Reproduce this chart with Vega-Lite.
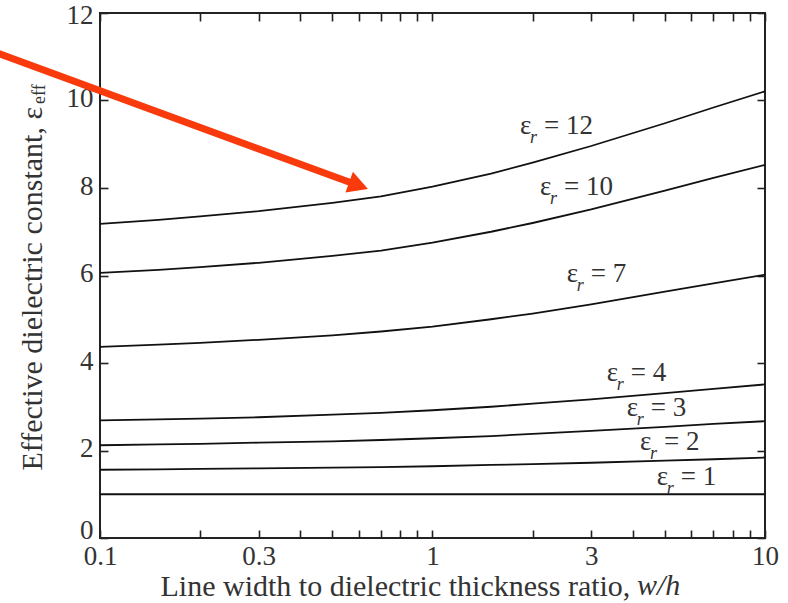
{
  "$schema": "https://vega.github.io/schema/vega-lite/v6.json",
  "width": 665,
  "height": 525,
  "autosize": "none",
  "padding": {"left": 100, "top": 13, "right": 23, "bottom": 65},
  "background": "white",
  "config": {
    "view": {"stroke": "#222", "strokeWidth": 2},
    "axis": {
      "grid": false,
      "domain": false,
      "tickColor": "#222",
      "tickWidth": 1.6,
      "labelFont": "Liberation Serif",
      "labelFontSize": 27,
      "labelColor": "#333",
      "titleFont": "Liberation Serif",
      "titleFontSize": 30,
      "titleFontWeight": "normal",
      "titleColor": "#333",
      "labelFlush": false,
      "labelOverlap": false
    }
  },
  "datasets": {
    "curves": [
      {"er": 12, "wh": 0.1, "eps": 7.18}, {"er": 12, "wh": 0.15, "eps": 7.27}, {"er": 12, "wh": 0.2, "eps": 7.35}, {"er": 12, "wh": 0.3, "eps": 7.47}, {"er": 12, "wh": 0.5, "eps": 7.66}, {"er": 12, "wh": 0.7, "eps": 7.81}, {"er": 12, "wh": 1, "eps": 8.03}, {"er": 12, "wh": 1.5, "eps": 8.33}, {"er": 12, "wh": 2, "eps": 8.58}, {"er": 12, "wh": 3, "eps": 8.96}, {"er": 12, "wh": 5, "eps": 9.48}, {"er": 12, "wh": 7, "eps": 9.84}, {"er": 12, "wh": 10, "eps": 10.21},
      {"er": 10, "wh": 0.1, "eps": 6.06}, {"er": 10, "wh": 0.15, "eps": 6.13}, {"er": 10, "wh": 0.2, "eps": 6.19}, {"er": 10, "wh": 0.3, "eps": 6.29}, {"er": 10, "wh": 0.5, "eps": 6.45}, {"er": 10, "wh": 0.7, "eps": 6.57}, {"er": 10, "wh": 1, "eps": 6.75}, {"er": 10, "wh": 1.5, "eps": 7.0}, {"er": 10, "wh": 2, "eps": 7.2}, {"er": 10, "wh": 3, "eps": 7.51}, {"er": 10, "wh": 5, "eps": 7.94}, {"er": 10, "wh": 7, "eps": 8.23}, {"er": 10, "wh": 10, "eps": 8.53},
      {"er": 7, "wh": 0.1, "eps": 4.37}, {"er": 7, "wh": 0.15, "eps": 4.42}, {"er": 7, "wh": 0.2, "eps": 4.46}, {"er": 7, "wh": 0.3, "eps": 4.53}, {"er": 7, "wh": 0.5, "eps": 4.63}, {"er": 7, "wh": 0.7, "eps": 4.72}, {"er": 7, "wh": 1, "eps": 4.83}, {"er": 7, "wh": 1.5, "eps": 5.0}, {"er": 7, "wh": 2, "eps": 5.13}, {"er": 7, "wh": 3, "eps": 5.34}, {"er": 7, "wh": 5, "eps": 5.63}, {"er": 7, "wh": 7, "eps": 5.82}, {"er": 7, "wh": 10, "eps": 6.02},
      {"er": 4, "wh": 0.1, "eps": 2.69}, {"er": 4, "wh": 0.15, "eps": 2.71}, {"er": 4, "wh": 0.2, "eps": 2.73}, {"er": 4, "wh": 0.3, "eps": 2.76}, {"er": 4, "wh": 0.5, "eps": 2.82}, {"er": 4, "wh": 0.7, "eps": 2.86}, {"er": 4, "wh": 1, "eps": 2.92}, {"er": 4, "wh": 1.5, "eps": 3.0}, {"er": 4, "wh": 2, "eps": 3.07}, {"er": 4, "wh": 3, "eps": 3.17}, {"er": 4, "wh": 5, "eps": 3.31}, {"er": 4, "wh": 7, "eps": 3.41}, {"er": 4, "wh": 10, "eps": 3.51},
      {"er": 3, "wh": 0.1, "eps": 2.12}, {"er": 3, "wh": 0.15, "eps": 2.14}, {"er": 3, "wh": 0.2, "eps": 2.15}, {"er": 3, "wh": 0.3, "eps": 2.18}, {"er": 3, "wh": 0.5, "eps": 2.21}, {"er": 3, "wh": 0.7, "eps": 2.24}, {"er": 3, "wh": 1, "eps": 2.28}, {"er": 3, "wh": 1.5, "eps": 2.33}, {"er": 3, "wh": 2, "eps": 2.38}, {"er": 3, "wh": 3, "eps": 2.45}, {"er": 3, "wh": 5, "eps": 2.54}, {"er": 3, "wh": 7, "eps": 2.61}, {"er": 3, "wh": 10, "eps": 2.67},
      {"er": 2, "wh": 0.1, "eps": 1.56}, {"er": 2, "wh": 0.15, "eps": 1.57}, {"er": 2, "wh": 0.2, "eps": 1.58}, {"er": 2, "wh": 0.3, "eps": 1.59}, {"er": 2, "wh": 0.5, "eps": 1.61}, {"er": 2, "wh": 0.7, "eps": 1.62}, {"er": 2, "wh": 1, "eps": 1.64}, {"er": 2, "wh": 1.5, "eps": 1.67}, {"er": 2, "wh": 2, "eps": 1.69}, {"er": 2, "wh": 3, "eps": 1.72}, {"er": 2, "wh": 5, "eps": 1.77}, {"er": 2, "wh": 7, "eps": 1.8}, {"er": 2, "wh": 10, "eps": 1.84},
      {"er": 1, "wh": 0.1, "eps": 1.0}, {"er": 1, "wh": 0.3, "eps": 1.0}, {"er": 1, "wh": 1, "eps": 1.0}, {"er": 1, "wh": 3, "eps": 1.0}, {"er": 1, "wh": 10, "eps": 1.0}
    ],
    "labels": [
      {"er": 12, "lx": 1.833, "ly": 9.23, "txt": "= 12"},
      {"er": 10, "lx": 2.106, "ly": 7.84, "txt": "= 10"},
      {"er": 7, "lx": 2.533, "ly": 5.85, "txt": "= 7"},
      {"er": 4, "lx": 3.341, "ly": 3.59, "txt": "= 4"},
      {"er": 3, "lx": 3.837, "ly": 2.79, "txt": "= 3"},
      {"er": 2, "lx": 4.209, "ly": 2.01, "txt": "= 2"},
      {"er": 1, "lx": 4.724, "ly": 1.21, "txt": "= 1"}
    ],
    "arrow": [
      {"x": 0.04355, "y": 11.23, "x2": 0.5993, "y2": 8.057}
    ],
    "ytitle": [
      {"x": 0.06692, "y": 9.851, "main": "Effective dielectric constant, ε", "sub": "eff"}
    ],
    "italic": [
      {"x": 4.121, "y": -1.303, "t": "w/h"}
    ]
  },
  "layer": [
    {
      "data": {"name": "curves"},
      "mark": {"type": "line", "color": "#111", "strokeWidth": 1.8},
      "encoding": {
        "x": {
          "field": "wh", "type": "quantitative",
          "scale": {"type": "log", "domain": [0.1, 10]},
          "axis": {
            "orient": "bottom",
            "values": [0.1, 0.2, 0.3, 0.4, 0.5, 0.6, 0.7, 0.8, 0.9, 1, 2, 3, 4, 5, 6, 7, 8, 9, 10],
            "format": "~g",
            "labelExpr": "indexof([0.1, 0.3, 1, 3, 10], datum.value) >= 0 ? datum.label : ''",
            "tickSize": -8,
            "labelPadding": 13,
            "title": "Line width to dielectric thickness ratio,",
            "titleAngle": 0,
            "titleAlign": "left",
            "titleBaseline": "alphabetic",
            "titleX": 60,
            "titleY": 57
          }
        },
        "y": {
          "field": "eps", "type": "quantitative",
          "scale": {"domain": [0, 12]},
          "axis": {
            "orient": "left",
            "values": [0, 2, 4, 6, 8, 10, 12],
            "tickSize": -8,
            "labelPadding": 15,
            "labelOffset": {"condition": [{"test": "datum.value == 0", "value": -8}, {"test": "datum.value == 12", "value": 2}], "value": -2},
            "title": null
          }
        },
        "detail": {"field": "er", "type": "nominal"}
      }
    },
    {
      "data": {"name": "curves"},
      "mark": {"type": "point", "opacity": 0},
      "encoding": {
        "x": {
          "field": "wh", "type": "quantitative",
          "scale": {"type": "log", "domain": [0.1, 10]},
          "axis": {
            "orient": "top",
            "values": [0.1, 0.2, 0.3, 0.4, 0.5, 0.6, 0.7, 0.8, 0.9, 1, 2, 3, 4, 5, 6, 7, 8, 9, 10],
            "labels": false,
            "tickSize": -8,
            "title": null
          }
        },
        "y": {
          "field": "eps", "type": "quantitative",
          "scale": {"domain": [0, 12]},
          "axis": {
            "orient": "right",
            "values": [0, 2, 4, 6, 8, 10, 12],
            "labels": false,
            "tickSize": -8,
            "title": null
          }
        }
      }
    },
    {
      "data": {"name": "arrow"},
      "mark": {"type": "rule", "color": "#f83a0c", "strokeWidth": 7, "clip": false},
      "encoding": {
        "x": {"field": "x", "type": "quantitative", "axis": null},
        "y": {"field": "y", "type": "quantitative", "axis": null},
        "x2": {"field": "x2"},
        "y2": {"field": "y2"}
      }
    },
    {
      "data": {"name": "arrow"},
      "mark": {"type": "point", "shape": "M-1,-1.1L1,0L-1,1.1Z", "filled": true, "color": "#f83a0c", "opacity": 1, "size": 400, "angle": 20, "strokeWidth": 0},
      "encoding": {
        "x": {"field": "x2", "type": "quantitative", "axis": null},
        "y": {"field": "y2", "type": "quantitative", "axis": null}
      }
    },
    {
      "data": {"name": "labels"},
      "mark": {"type": "text", "font": "Liberation Serif", "fontSize": 27, "color": "#333", "align": "left", "baseline": "alphabetic"},
      "encoding": {
        "x": {"field": "lx", "type": "quantitative", "axis": null},
        "y": {"field": "ly", "type": "quantitative", "axis": null},
        "text": {"value": "ε"}
      }
    },
    {
      "data": {"name": "labels"},
      "mark": {"type": "text", "font": "Liberation Serif", "fontSize": 18, "fontStyle": "italic", "color": "#333", "align": "left", "baseline": "alphabetic", "dx": 10, "dy": 9},
      "encoding": {
        "x": {"field": "lx", "type": "quantitative", "axis": null},
        "y": {"field": "ly", "type": "quantitative", "axis": null},
        "text": {"value": "r"}
      }
    },
    {
      "data": {"name": "labels"},
      "mark": {"type": "text", "font": "Liberation Serif", "fontSize": 27, "color": "#333", "align": "left", "baseline": "alphabetic", "dx": 24},
      "encoding": {
        "x": {"field": "lx", "type": "quantitative", "axis": null},
        "y": {"field": "ly", "type": "quantitative", "axis": null},
        "text": {"field": "txt"}
      }
    },
    {
      "data": {"name": "ytitle"},
      "mark": {"type": "text", "font": "Liberation Serif", "fontSize": 30, "color": "#333", "align": "right", "baseline": "alphabetic", "angle": 270},
      "encoding": {
        "x": {"field": "x", "type": "quantitative", "axis": null},
        "y": {"field": "y", "type": "quantitative", "axis": null},
        "text": {"field": "main"}
      }
    },
    {
      "data": {"name": "ytitle"},
      "mark": {"type": "text", "font": "Liberation Serif", "fontSize": 18, "color": "#333", "align": "left", "baseline": "alphabetic", "angle": 270, "dx": 3, "dy": 3},
      "encoding": {
        "x": {"field": "x", "type": "quantitative", "axis": null},
        "y": {"field": "y", "type": "quantitative", "axis": null},
        "text": {"field": "sub"}
      }
    },
    {
      "data": {"name": "italic"},
      "mark": {"type": "text", "font": "Liberation Serif", "fontSize": 30, "fontStyle": "italic", "color": "#333", "align": "left", "baseline": "alphabetic"},
      "encoding": {
        "x": {"field": "x", "type": "quantitative", "axis": null},
        "y": {"field": "y", "type": "quantitative", "axis": null},
        "text": {"field": "t"}
      }
    }
  ],
  "resolve": {"axis": {"x": "independent", "y": "independent"}}
}
